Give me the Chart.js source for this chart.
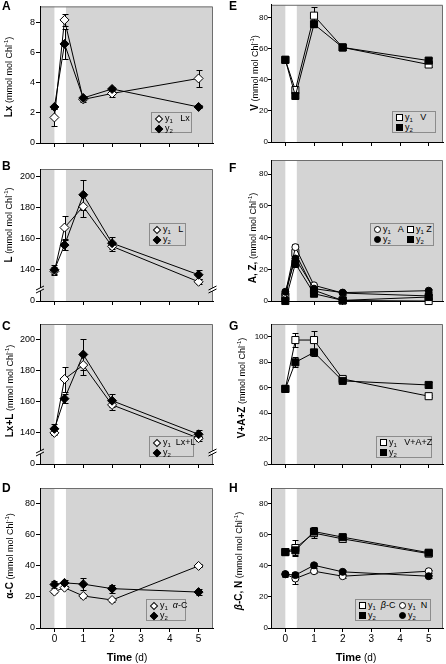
<!DOCTYPE html>
<html>
<head>
<meta charset="utf-8">
<script src="https://cdn.jsdelivr.net/npm/chart.js@4/dist/chart.umd.min.js"></script>
<style>
body { margin: 0; background: #fff; font-family: 'Liberation Sans', Arial, sans-serif; }
#page { position: relative; width: 446px; height: 664px; overflow: hidden; }
canvas { position: absolute; }
.letter { position: absolute; font-weight: bold; font-size: 12px; line-height: 12px; }
.ytitle { position: absolute; white-space: nowrap; font-size: 9px; line-height: 10px; transform: translate(-50%, -50%) rotate(-90deg); }
.ytitle b { font-size: 10px; }
.ytitle sup, .leg sup { font-size: 6px; vertical-align: 4px; }
.xtitle { position: absolute; white-space: nowrap; font-size: 10px; transform: translate(-50%, -50%); }
.xtitle b { font-size: 11px; }
.leg { position: absolute; box-sizing: border-box; background: #d4d4d4; border: 1px solid #8c8c8c; font-size: 9px; padding: 1px 0 0 3px; }
.leg .row { height: 9.5px; line-height: 9.5px; white-space: nowrap; }
.leg .cell { display: inline-block; }
.leg sub { font-size: 6px; vertical-align: -2px; line-height: 0; }
.mk { display: inline-block; box-sizing: border-box; border: 1px solid #000; vertical-align: -1px; margin-right: 2px; }
.mk.sq, .mk.ci { width: 7px; height: 7px; }
.mk.ci { border-radius: 50%; }
.mk.di { width: 6px; height: 6px; transform: rotate(45deg); margin: 0 3px 0 1px; }
.mk.f { background: #000; }
.mk.o { background: #fff; }
</style>
</head>
<body>
<div id="page"></div>
<script>
const FONT = "'Liberation Sans', Arial, sans-serif";

// time axis (d)
const timeDays = [0, 0.35, 1, 2, 5];
const timeTicks = [0, 1, 2, 3, 4, 5];
const timeTickLabels = ['0', '1', '2', '3', '4', '5'];
const lightBand = [0, 0.4];

// A  Lx
const lxY1 = [1.7, 8.2, 2.9, 3.3, 4.3];
const lxY1Err = [0.55, 0.4, 0.15, 0.25, 0.55];
const lxY2 = [2.4, 6.6, 3.0, 3.6, 2.4];
const lxY2Err = [0.15, 1.0, 0.15, 0.15, 0.1];
const lxTicks = [0, 2, 4, 6, 8];

// B  L
const lY1 = [139, 167, 180.5, 155, 132.3];
const lY1Err = [2.5, 7.5, 6.5, 3, 1.5];
const lY2 = [140, 155.8, 188, 157, 136.8];
const lY2Err = [3, 3, 9.5, 4, 3];

// C  Lx+L
const lxlY1 = [140, 174.6, 183.6, 158, 136.6];
const lxlY1Err = [1.5, 8, 6.5, 3, 1.5];
const lxlY2 = [142.6, 162, 190.4, 160.7, 139.1];
const lxlY2Err = [3, 3, 9.8, 4, 3];

// broken axis for B and C (bottom tick is drawn as 0)
const brokenTicks = [120, 140, 160, 180, 200];
const brokenTickLabels = ['0', '140', '160', '180', '200'];

// D  alpha-C
const acY1 = [23.4, 25.9, 20.6, 18, 39.9];
const acY1Err = [1, 1, 1, 1, 1];
const acY2 = [28, 29, 28.2, 25.3, 23.1];
const acY2Err = [2.5, 2, 4, 2.5, 2];

// E  V
const vY1 = [53, 33.5, 81.5, 61, 50];
const vY1Err = [1.5, 2, 5.5, 1.5, 1.5];
const vY2 = [53, 29.7, 76, 61, 52.5];
const vY2Err = [1.5, 1.5, 2, 1.5, 1.5];

// F  A, Z
const aY1 = [4.5, 34, 9.9, 5, 3.2];
const aY2 = [5.8, 26.8, 7.8, 5.3, 6.5];
const zY1 = [2.5, 30.3, 6.8, 0.3, 0];
const zY2 = [0, 23.6, 4.6, 0.4, 2.5];
const azErr = [1, 2, 1, 1, 1];

// G  V+A+Z
const vazY1 = [59, 97.4, 97.4, 66.8, 53.3];
const vazY1Err = [2, 5.5, 7.3, 2, 1];
const vazY2 = [59, 79.9, 87.7, 65.3, 62.1];
const vazY2Err = [2, 4, 3, 2, 2];

// H  beta-C, N
const bcY1 = [48.8, 51.4, 61, 57.3, 47.8];
const bcY1Err = [1.5, 5, 3, 2, 1.5];
const bcY2 = [48.8, 49.9, 62, 58.4, 48.4];
const bcY2Err = [1.5, 3, 3, 2, 1.5];
const nY1 = [34.6, 31.8, 36.5, 33.3, 36.5];
const nY1Err = [1, 3.2, 1, 1, 1];
const nY2 = [34.6, 34, 40.3, 36.1, 33.3];
const nY2Err = [1.5, 2, 1.5, 1.5, 1];

const pct80 = [0, 20, 40, 60, 80];
const pct100 = [0, 20, 40, 60, 80, 100];

const UNIT = ' (mmol mol Chl<sup>-1</sup>)';

const panels = [
  { key: 'A', side: 'L', top: 1, bottom: 143, yMin: 0, yMax: 9.1, yTicks: lxTicks, title: '<b>Lx</b>' + UNIT, titleX: 7, titleY: 77, letterY: 5.5,
    series: [{ v: lxY1, e: lxY1Err, s: 'rectRot', f: false }, { v: lxY2, e: lxY2Err, s: 'rectRot', f: true }],
    legend: { x: 151, y: 112, w: 41, h: 21, rows: [[['di', 0, 'y<sub>1</sub>&nbsp;&nbsp; Lx']], [['di', 1, 'y<sub>2</sub>']]] } },
  { key: 'B', side: 'L', top: 169, bottom: 301, yMin: 120, yMax: 204.5, yTicks: brokenTicks, yLabels: brokenTickLabels, broken: true, title: '<b>L</b>' + UNIT, titleX: 6.5, titleY: 225, letterY: 165.5,
    series: [{ v: lY1, e: lY1Err, s: 'rectRot', f: false }, { v: lY2, e: lY2Err, s: 'rectRot', f: true }],
    legend: { x: 149, y: 223, w: 37, h: 23, rows: [[['di', 0, 'y<sub>1</sub>&nbsp;&nbsp; L']], [['di', 1, 'y<sub>2</sub>']]] } },
  { key: 'C', side: 'L', top: 324, bottom: 464, yMin: 120, yMax: 210, yTicks: brokenTicks, yLabels: brokenTickLabels, broken: true, title: '<b>Lx+L</b>' + UNIT, titleX: 8, titleY: 390.5, letterY: 326,
    series: [{ v: lxlY1, e: lxlY1Err, s: 'rectRot', f: false }, { v: lxlY2, e: lxlY2Err, s: 'rectRot', f: true }],
    legend: { x: 149, y: 436, w: 45, h: 21, rows: [[['di', 0, 'y<sub>1</sub>&nbsp; Lx+L']], [['di', 1, 'y<sub>2</sub>']]] } },
  { key: 'D', side: 'L', top: 488, bottom: 628, yMin: 0, yMax: 90, yTicks: pct80, title: '<b>α-C</b>' + UNIT, titleX: 8, titleY: 555.5, letterY: 488, xLabels: true,
    series: [{ v: acY1, e: acY1Err, s: 'rectRot', f: false }, { v: acY2, e: acY2Err, s: 'rectRot', f: true }],
    legend: { x: 146, y: 599, w: 40, h: 22, rows: [[['di', 0, 'y<sub>1</sub>&nbsp; <i>α</i>-C']], [['di', 1, 'y<sub>2</sub>']]] } },
  { key: 'E', side: 'R', top: 3, bottom: 142, yMin: 0, yMax: 88.5, yTicks: pct80, title: '<b>V</b>' + UNIT, titleX: 253, titleY: 72.5, letterY: 5.5,
    series: [{ v: vY1, e: vY1Err, s: 'rect', f: false }, { v: vY2, e: vY2Err, s: 'rect', f: true }],
    legend: { x: 392, y: 111, w: 44, h: 22, rows: [[['sq', 0, 'y<sub>1</sub>&nbsp;&nbsp; V']], [['sq', 1, 'y<sub>2</sub>']]] } },
  { key: 'F', side: 'R', top: 160, bottom: 301, yMin: 0, yMax: 89, yTicks: pct80, title: '<b>A, Z,</b>' + UNIT, titleX: 251, titleY: 237.5, letterY: 168,
    series: [{ v: aY1, e: azErr, s: 'circle', f: false }, { v: zY1, e: azErr, s: 'rect', f: false },
             { v: aY2, e: azErr, s: 'circle', f: true }, { v: zY2, e: azErr, s: 'rect', f: true }],
    legend: { x: 370, y: 223, w: 64, h: 23, rows: [[['ci', 0, 'y<sub>1</sub>&nbsp;&nbsp; A', 33], ['sq', 0, 'y<sub>1</sub> Z']], [['ci', 1, 'y<sub>2</sub>', 33], ['sq', 1, 'y<sub>2</sub>']]] } },
  { key: 'G', side: 'R', top: 324, bottom: 464, yMin: 0, yMax: 110, yTicks: pct100, title: '<b>V+A+Z</b>' + UNIT, titleX: 240, titleY: 387.5, letterY: 326,
    series: [{ v: vazY1, e: vazY1Err, s: 'rect', f: false }, { v: vazY2, e: vazY2Err, s: 'rect', f: true }],
    legend: { x: 376, y: 436, w: 56, h: 22, rows: [[['sq', 0, 'y<sub>1</sub>&nbsp;&nbsp; V+A+Z']], [['sq', 1, 'y<sub>2</sub>']]] } },
  { key: 'H', side: 'R', top: 488, bottom: 628, yMin: 0, yMax: 90, yTicks: pct80, title: '<b><i>β</i>-C, N</b>' + UNIT, titleX: 237, titleY: 561, letterY: 488, xLabels: true,
    series: [{ v: bcY1, e: bcY1Err, s: 'rect', f: false }, { v: nY1, e: nY1Err, s: 'circle', f: false },
             { v: bcY2, e: bcY2Err, s: 'rect', f: true }, { v: nY2, e: nY2Err, s: 'circle', f: true }],
    legend: { x: 355, y: 599, w: 76, h: 22, rows: [[['sq', 0, 'y<sub>1</sub>&nbsp; <i>β</i>-C', 40], ['ci', 0, 'y<sub>1</sub>&nbsp; N']], [['sq', 1, 'y<sub>2</sub>', 40], ['ci', 1, 'y<sub>2</sub>']]] } }
];

// grey plot box with the white band, plus the axis breaks
const panelBg = {
  id: 'panelBg',
  beforeDraw(chart) {
    const { ctx, chartArea: a, scales: { x } } = chart;
    ctx.save();
    ctx.fillStyle = '#d4d4d4';
    ctx.fillRect(a.left, a.top, a.right - a.left, a.bottom - a.top);
    const b0 = x.getPixelForValue(lightBand[0]);
    const b1 = x.getPixelForValue(lightBand[1]);
    ctx.fillStyle = '#fff';
    ctx.fillRect(b0, a.top, b1 - b0, a.bottom - a.top);
    ctx.strokeStyle = '#6e6e6e';
    ctx.lineWidth = 1;
    ctx.beginPath();
    ctx.moveTo(a.left, a.top + 0.5);
    ctx.lineTo(a.right - 0.5, a.top + 0.5);
    ctx.lineTo(a.right - 0.5, a.bottom);
    ctx.stroke();
    ctx.restore();
  },
  afterDraw(chart, args, opts) {
    if (!opts.broken) return;
    const { ctx, chartArea: a } = chart;
    ctx.save();
    [a.left, a.right - 0.5].forEach(cx => {
      const cy = a.bottom - 12;
      ctx.fillStyle = '#fff';
      ctx.fillRect(cx - 1.5, cy - 1, 3, 3);
      ctx.strokeStyle = '#000';
      ctx.lineWidth = 1;
      ctx.beginPath();
      ctx.moveTo(cx - 4, cy + 1); ctx.lineTo(cx + 4, cy - 3);
      ctx.moveTo(cx - 4, cy + 4); ctx.lineTo(cx + 4, cy);
      ctx.stroke();
    });
    ctx.restore();
  }
};

const errorBars = {
  id: 'errorBars',
  beforeDatasetsDraw(chart) {
    const { ctx, chartArea: a, scales: { x, y } } = chart;
    ctx.save();
    ctx.beginPath();
    ctx.rect(a.left, a.top, a.right - a.left, a.bottom - a.top);
    ctx.clip();
    ctx.strokeStyle = '#000';
    ctx.lineWidth = 1;
    chart.data.datasets.forEach(ds => {
      if (!ds.errors) return;
      ds.data.forEach((p, i) => {
        const e = ds.errors[i];
        if (!e) return;
        const px = Math.round(x.getPixelForValue(p.x)) + 0.5;
        const yt = Math.round(y.getPixelForValue(p.y + e)) + 0.5;
        const yb = Math.round(y.getPixelForValue(p.y - e)) + 0.5;
        ctx.beginPath();
        ctx.moveTo(px, yt); ctx.lineTo(px, yb);
        ctx.moveTo(px - 3, yt); ctx.lineTo(px + 3, yt);
        ctx.moveTo(px - 3, yb); ctx.lineTo(px + 3, yb);
        ctx.stroke();
      });
    });
    ctx.restore();
  }
};

const page = document.getElementById('page');

function marker(shape, filled) {
  return '<span class="mk ' + shape + ' ' + (filled ? 'f' : 'o') + '"></span>';
}

panels.forEach(p => {
  const left = p.side === 'L';
  const cx = left ? 0 : 223;
  const cw = left ? 220 : 223;
  const yW = left ? 40 : 48;
  const padR = left ? 7 : 3;
  const tickLen = left ? 4 : 3;
  const tickPad = left ? 1 : 0;
  const tickSize = left ? 9 : 8;
  const padT = Math.min(p.top, 8);
  const xH = p.xLabels ? 24 : 8;
  const ch = padT + (p.bottom - p.top) + xH;

  const canvas = document.createElement('canvas');
  canvas.width = cw;
  canvas.height = ch;
  canvas.style.left = cx + 'px';
  canvas.style.top = (p.top - padT) + 'px';
  page.appendChild(canvas);

  const datasets = p.series.map(s => ({
    data: timeDays.map((t, j) => ({ x: t, y: s.v[j] })),
    errors: s.e,
    borderColor: '#000',
    borderWidth: 1,
    tension: 0,
    fill: false,
    clip: false,
    pointStyle: s.s,
    pointRadius: s.s === 'circle' ? 3.5 : (s.s === 'rect' ? 5 : 4.5),
    pointBackgroundColor: s.f ? '#000' : '#fff',
    pointBorderColor: '#000',
    pointBorderWidth: 1,
    order: s.f ? 0 : 1
  }));

  const border = { display: true, color: '#000', width: 1 };

  new Chart(canvas, {
    type: 'line',
    data: { datasets },
    options: {
      responsive: false,
      animation: false,
      devicePixelRatio: 1,
      layout: { autoPadding: false, padding: { top: padT, right: padR, left: 0, bottom: 0 } },
      plugins: { legend: { display: false }, tooltip: { enabled: false }, panelBg: { broken: !!p.broken } },
      scales: {
        x: {
          type: 'linear', min: -0.5, max: 5.5,
          afterBuildTicks: ax => { ax.ticks = timeTicks.map(v => ({ value: v })); },
          afterFit: ax => { ax.height = xH; },
          grid: { drawOnChartArea: false, drawTicks: true, tickLength: 4, color: '#000' },
          border,
          ticks: { display: !!p.xLabels, color: '#000', padding: 1, font: { size: 10, family: FONT },
                   callback: (v, i) => timeTickLabels[i] }
        },
        y: {
          type: 'linear', min: p.yMin, max: p.yMax,
          afterBuildTicks: ax => { ax.ticks = p.yTicks.map(v => ({ value: v })); },
          afterFit: ax => { ax.width = yW; },
          grid: { drawOnChartArea: false, drawTicks: true, tickLength: tickLen, color: '#000' },
          border,
          ticks: { color: '#000', padding: tickPad, font: { size: tickSize, family: FONT },
                   callback: (v, i) => p.yLabels ? p.yLabels[i] : String(p.yTicks[i]) }
        }
      }
    },
    plugins: [panelBg, errorBars]
  });

  const letter = document.createElement('div');
  letter.className = 'letter';
  letter.textContent = p.key;
  letter.style.left = (left ? 2 : 229) + 'px';
  letter.style.top = (p.letterY - 6) + 'px';
  page.appendChild(letter);

  const yt = document.createElement('div');
  yt.className = 'ytitle';
  yt.innerHTML = p.title;
  yt.style.left = p.titleX + 'px';
  yt.style.top = p.titleY + 'px';
  page.appendChild(yt);

  if (p.xLabels) {
    const xt = document.createElement('div');
    xt.className = 'xtitle';
    xt.innerHTML = '<b>Time</b> (d)';
    xt.style.left = (left ? 127 : 356) + 'px';
    xt.style.top = '657px';
    page.appendChild(xt);
  }

  const L = p.legend;
  const lg = document.createElement('div');
  lg.className = 'leg';
  lg.style.left = L.x + 'px';
  lg.style.top = L.y + 'px';
  lg.style.width = L.w + 'px';
  lg.style.height = L.h + 'px';
  lg.innerHTML = L.rows.map(row => '<div class="row">' + row.map(c =>
    '<span class="cell"' + (c[3] ? ' style="width:' + c[3] + 'px"' : '') + '>' + marker(c[0], c[1]) + c[2] + '</span>'
  ).join('') + '</div>').join('');
  page.appendChild(lg);
});
</script>
</body>
</html>
